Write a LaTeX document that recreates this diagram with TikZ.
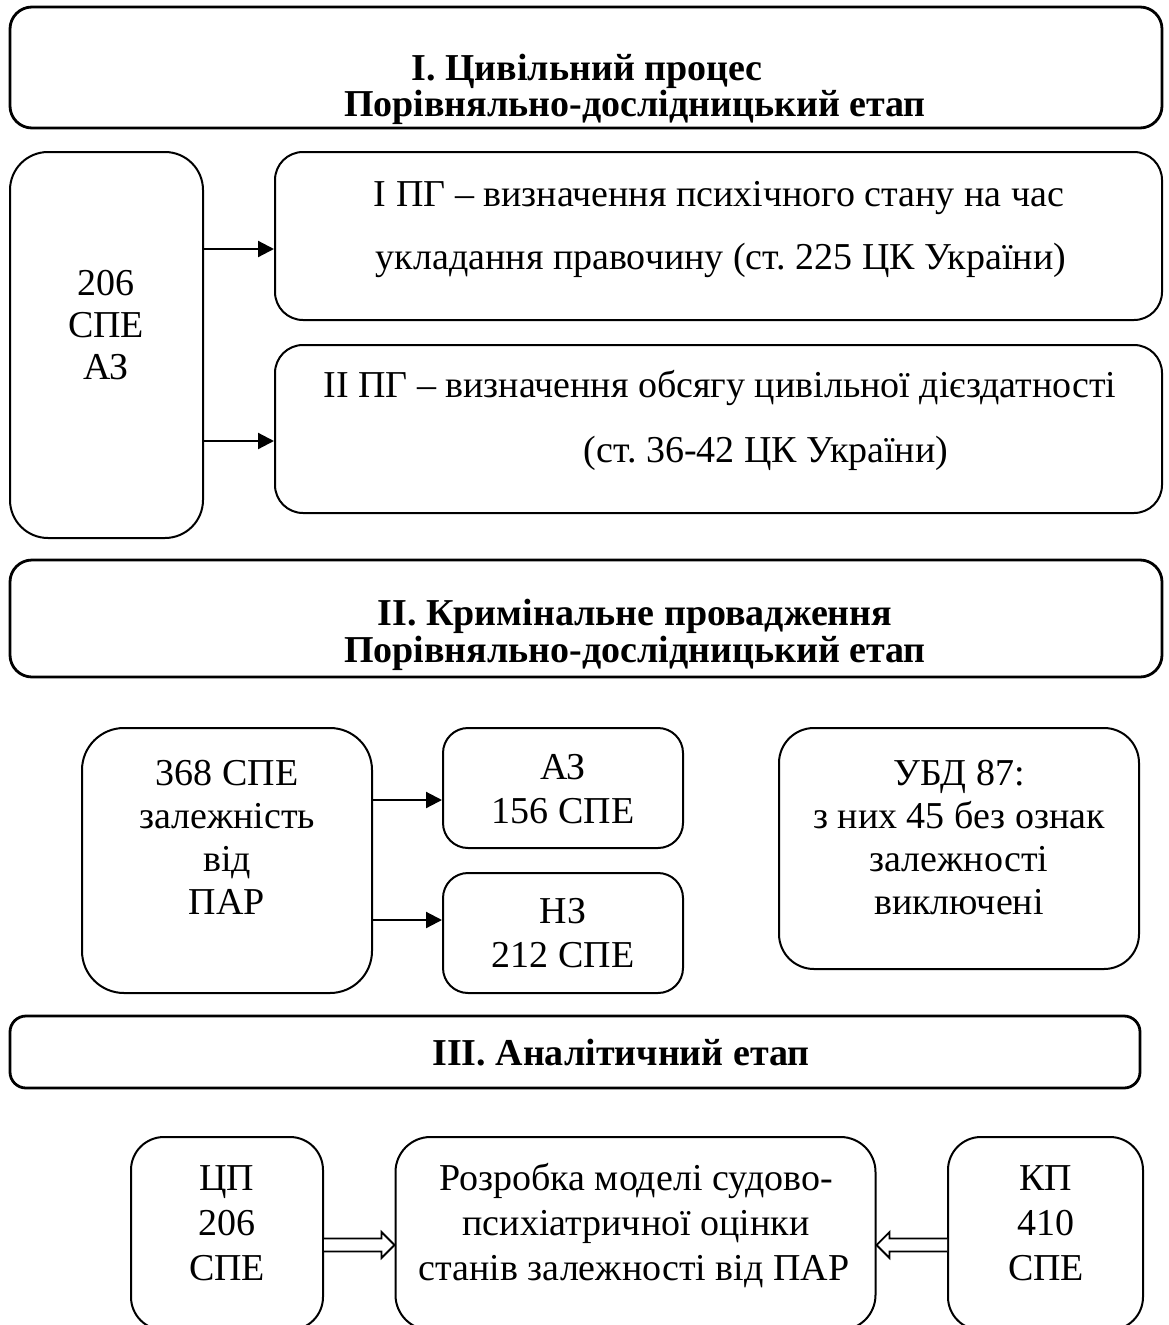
\documentclass[tikz,border=0pt]{standalone}
\usepackage{fontspec}
\setmainfont{Liberation Serif}
\usetikzlibrary{arrows.meta,calc}

\begin{document}
\frenchspacing
\begin{tikzpicture}[x=1pt,y=-1pt,
  box/.style={draw, line width=2pt, inner sep=0pt, rounded corners=#1},
  box/.default=30pt,
  head/.style={box=#1, line width=2.8pt},
  ln/.style={anchor=base, inner sep=0pt, font=\fontsize{38}{43}\selectfont},
  bln/.style={ln, font=\fontsize{38}{43}\selectfont\bfseries},
  arr/.style={line width=2.2pt, -{Triangle[length=16pt,width=16pt]}},
  blk/.style={line width=1.8pt, fill=white, line join=miter}
]
\useasboundingbox (0,0) rectangle (1168,1325);
\clip (0,0) rectangle (1168,1325);

% ---- I. civil process ----
\node[head=22pt, minimum width=1152pt, minimum height=121pt] (t1) at (586,67.5) {};
\node[bln] (t1a) at (587,80) {І. Цивільний процес};
\node[bln] (t1b) at (635,116) {Порівняльно-дослідницький етап};

\node[box=38pt, minimum width=193pt, minimum height=386pt] (spe) at (106.5,345) {};
\node[ln] (spea) at (106,295) {206};
\node[ln] (speb) at (106,337) {СПЕ};
\node[ln] (spec) at (106,379) {АЗ};

\node[box=28pt, minimum width=887pt, minimum height=168pt] (pg1) at (718.5,236) {};
\node[ln] (pg1a) at (719,206) {І ПГ – визначення психічного стану на час};
\node[ln] (pg1b) at (721,269) {укладання правочину (ст. 225 ЦК України)};

\node[box=28pt, minimum width=887pt, minimum height=168pt] (pg2) at (718.5,429) {};
\node[ln] (pg2a) at (720,397) {ІІ ПГ – визначення обсягу цивільної дієздатності};
\node[ln] (pg2b) at (766,462) {(ст. 36-42 ЦК України)};

\coordinate (ya) at (0,249);
\coordinate (yb) at (0,441);
\draw[arr] (spe.east |- ya) -- (pg1.west |- ya);
\draw[arr] (spe.east |- yb) -- (pg2.west |- yb);

% ---- II. criminal proceedings ----
\node[head=22pt, minimum width=1152pt, minimum height=117pt] (t2) at (586,618.5) {};
\node[bln] (t2a) at (635,625) {ІІ. Кримінальне провадження};
\node[bln] (t2b) at (635,662) {Порівняльно-дослідницький етап};

\node[box=42pt, minimum width=290pt, minimum height=265pt] (b368) at (227,860.5) {};
\node[ln] (b368a) at (227,785) {368 СПЕ};
\node[ln] (b368b) at (227,828) {залежність};
\node[ln] (b368c) at (227,871) {від};
\node[ln] (b368d) at (227,914) {ПАР};

\node[box=25pt, minimum width=240pt, minimum height=120pt] (az) at (563,788) {};
\node[ln] (aza) at (563,779) {АЗ};
\node[ln] (azb) at (563,823) {156 СПЕ};

\node[box=25pt, minimum width=240pt, minimum height=120pt] (nz) at (563,933) {};
\node[ln] (nza) at (563,923) {НЗ};
\node[ln] (nzb) at (563,967) {212 СПЕ};

\coordinate (yc) at (0,800);
\coordinate (yd) at (0,920);
\draw[arr] (b368.east |- yc) -- (az.west |- yc);
\draw[arr] (b368.east |- yd) -- (nz.west |- yd);

\node[box=35pt, minimum width=360pt, minimum height=241pt] (ubd) at (959,848.5) {};
\node[ln] (ubda) at (959,785) {УБД 87:};
\node[ln] (ubdb) at (959,828) {з них 45 без ознак};
\node[ln] (ubdc) at (959,871) {залежності};
\node[ln] (ubdd) at (959,914) {виключені};

% ---- III. analytical stage ----
\node[head=16pt, minimum width=1130pt, minimum height=72pt] (t3) at (575,1052) {};
\node[bln] (t3a) at (621,1065) {ІІІ. Аналітичний етап};

\node[box=33pt, minimum width=192pt, minimum height=193pt] (cp) at (227,1233.5) {};
\node[ln] (cpa) at (227,1190) {ЦП};
\node[ln] (cpb) at (227,1235) {206};
\node[ln] (cpc) at (227,1280) {СПЕ};

\node[box=35pt, minimum width=480pt, minimum height=193pt] (model) at (635.5,1233.5) {};
\node[ln] (modela) at (636,1190) {Розробка моделі судово-};
\node[ln] (modelb) at (636,1235) {психіатричної оцінки};
\node[ln] (modelc) at (634,1280) {станів залежності від ПАР};

\node[box=33pt, minimum width=195pt, minimum height=193pt] (kp) at (1045.5,1233.5) {};
\node[ln] (kpa) at (1046,1190) {КП};
\node[ln] (kpb) at (1046,1235) {410};
\node[ln] (kpc) at (1046,1280) {СПЕ};

% hollow block arrows into the model box
\coordinate (ye) at (0,1245);
\coordinate (s1) at (cp.east |- ye);
\coordinate (e1) at (model.west |- ye);
\draw[blk] ($(s1)+(0,-6.5)$) -- ($(e1)+(-13,-6.5)$) -- ($(e1)+(-13,-13)$) -- (e1)
  -- ($(e1)+(-13,13)$) -- ($(e1)+(-13,6.5)$) -- ($(s1)+(0,6.5)$);
\coordinate (s2) at (kp.west |- ye);
\coordinate (e2) at (model.east |- ye);
\draw[blk] ($(s2)+(0,-6.5)$) -- ($(e2)+(13,-6.5)$) -- ($(e2)+(13,-13)$) -- (e2)
  -- ($(e2)+(13,13)$) -- ($(e2)+(13,6.5)$) -- ($(s2)+(0,6.5)$);
\end{tikzpicture}
\end{document}
